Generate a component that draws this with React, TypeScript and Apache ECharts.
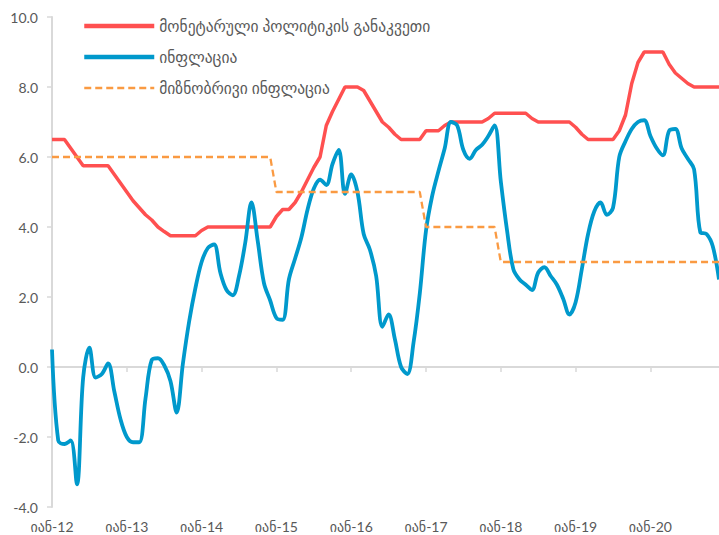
import React, { useEffect, useRef } from "react";
import * as echarts from "echarts";

// Georgian month abbreviations and years of the x axis
const monthNames = ["იან", "თებ", "მარ", "აპრ", "მაი", "ივნ", "ივლ", "აგვ", "სექ", "ოქტ", "ნოე", "დეკ"];
const years = ["12", "13", "14", "15", "16", "17", "18", "19", "20"];
const categories = years.flatMap((y) => monthNames.map((m) => `${m}-${y}`));

const seriesNames = [
  "მონეტარული პოლიტიკის განაკვეთი",
  "ინფლაცია",
  "მიზნობრივი ინფლაცია",
];

// Monetary policy rate, monthly Jan-12 .. Dec-20
const policyRate = [
  6.5, 6.5, 6.5, 6.25, 6.0, 5.75, 5.75, 5.75, 5.75, 5.75, 5.5, 5.25,
  5.0, 4.75, 4.55, 4.35, 4.2, 4.0, 3.87, 3.75, 3.75, 3.75, 3.75, 3.75,
  3.9, 4.0, 4.0, 4.0, 4.0, 4.0, 4.0, 4.0, 4.0, 4.0, 4.0, 4.0,
  4.3, 4.5, 4.5, 4.7, 5.0, 5.35, 5.7, 6.0, 6.9, 7.3, 7.65, 8.0,
  8.0, 8.0, 7.9, 7.6, 7.3, 7.0, 6.85, 6.65, 6.5, 6.5, 6.5, 6.5,
  6.75, 6.75, 6.75, 6.9, 7.0, 7.0, 7.0, 7.0, 7.0, 7.0, 7.1, 7.25,
  7.25, 7.25, 7.25, 7.25, 7.25, 7.1, 7.0, 7.0, 7.0, 7.0, 7.0, 7.0,
  6.85, 6.65, 6.5, 6.5, 6.5, 6.5, 6.5, 6.75, 7.2, 8.1, 8.7, 9.0,
  9.0, 9.0, 9.0, 8.65, 8.4, 8.25, 8.1, 8.0, 8.0, 8.0, 8.0, 8.0,
];

// Annual inflation, monthly
const inflation = [
  0.5, -2.1, -2.2, -2.1, -3.35, -0.3, 0.55, -0.3, -0.2, 0.1, -0.7, -1.5,
  -2.0, -2.15, -2.15, -0.9, 0.2, 0.25, 0.05, -0.4, -1.3, 0.1, 1.3, 2.25,
  3.0, 3.4, 3.5, 2.7, 2.2, 2.05, 2.6, 3.55, 4.7, 3.6, 2.4, 1.9,
  1.4, 1.35, 2.5, 3.1, 3.7, 4.5, 5.1, 5.35, 5.2, 5.8, 6.2, 4.95,
  5.5, 5.0, 3.8, 3.35, 2.6, 1.15, 1.5, 0.8, 0.0, -0.2, 0.7, 2.1,
  3.9, 4.9, 5.6, 6.25, 7.0, 6.9, 6.2, 5.95, 6.2, 6.35, 6.6, 6.9,
  5.3, 3.9, 2.8, 2.5, 2.35, 2.2, 2.7, 2.85, 2.6, 2.35, 1.95, 1.5,
  1.85, 2.8, 3.8, 4.45, 4.7, 4.35, 4.55, 6.0, 6.45, 6.8, 7.0, 7.05,
  6.6, 6.25, 6.05, 6.75, 6.8, 6.25, 5.95, 5.65, 3.85, 3.8, 3.45, 2.5,
];

// Inflation target, monthly
const targetInflation = [
  6, 6, 6, 6, 6, 6, 6, 6, 6, 6, 6, 6,
  6, 6, 6, 6, 6, 6, 6, 6, 6, 6, 6, 6,
  6, 6, 6, 6, 6, 6, 6, 6, 6, 6, 6, 6,
  5, 5, 5, 5, 5, 5, 5, 5, 5, 5, 5, 5,
  5, 5, 5, 5, 5, 5, 5, 5, 5, 5, 5, 5,
  4, 4, 4, 4, 4, 4, 4, 4, 4, 4, 4, 4,
  3, 3, 3, 3, 3, 3, 3, 3, 3, 3, 3, 3,
  3, 3, 3, 3, 3, 3, 3, 3, 3, 3, 3, 3,
  3, 3, 3, 3, 3, 3, 3, 3, 3, 3, 3, 3,
];

const yMin = -4;
const yMax = 10;
const yInterval = 2;

const FONT = "Lato, 'DejaVu Sans', sans-serif";
const AXIS_GREY = "#D9D9D9";
const TEXT_GREY = "#595959";
const RED = "#FF5050";
const BLUE = "#0099CC";
const ORANGE = "#FA9A42";

export default function App() {
  const ref = useRef<HTMLDivElement>(null);

  useEffect(() => {
    if (!ref.current) return;
    const chart = echarts.init(ref.current, undefined, { renderer: "svg" });
    const yearTick = (i: number) => i % 12 === 0;
    chart.setOption({
      animation: false,
      backgroundColor: "#ffffff",
      textStyle: { fontFamily: FONT },
      grid: { left: 52, right: -3, top: 17, bottom: 28, containLabel: false },
      legend: {
        orient: "vertical",
        left: 82,
        top: 18,
        padding: 0,
        itemWidth: 70,
        itemHeight: 16,
        itemGap: 15,
        itemStyle: { opacity: 0 },
        textStyle: { color: TEXT_GREY, fontSize: 15.5, fontFamily: FONT, lineHeight: 16 },
        data: [
          { name: seriesNames[0], lineStyle: { width: 4.5, color: RED } },
          { name: seriesNames[1], lineStyle: { width: 4.5, color: BLUE } },
          { name: seriesNames[2], lineStyle: { width: 2.5, color: ORANGE, type: [7, 4] } },
        ],
      },
      xAxis: [
        {
          type: "category",
          data: categories,
          boundaryGap: false,
          axisLine: { show: true, onZero: true, lineStyle: { color: AXIS_GREY, width: 2 } },
          axisTick: { show: true, interval: yearTick, length: 5, lineStyle: { color: AXIS_GREY, width: 1.5 } },
          axisLabel: { show: false },
          splitLine: { show: false },
        },
        {
          type: "category",
          data: categories,
          position: "bottom",
          boundaryGap: false,
          axisLine: { show: false, onZero: false },
          axisTick: { show: false },
          axisLabel: {
            show: true,
            interval: yearTick,
            margin: 12,
            color: TEXT_GREY,
            fontSize: 14,
            fontFamily: FONT,
          },
          splitLine: { show: false },
        },
      ],
      yAxis: {
        type: "value",
        min: yMin,
        max: yMax,
        interval: yInterval,
        axisLine: { show: true, lineStyle: { color: AXIS_GREY, width: 2 } },
        axisTick: { show: true, length: 5, lineStyle: { color: AXIS_GREY, width: 1.5 } },
        axisLabel: {
          margin: 14,
          color: TEXT_GREY,
          fontSize: 14,
          fontFamily: FONT,
          formatter: (v: number) => v.toFixed(1),
        },
        splitLine: { show: false },
      },
      series: [
        {
          name: seriesNames[0],
          type: "line",
          data: policyRate,
          symbol: "none",
          smooth: false,
          lineStyle: { color: RED, width: 3.5 },
          itemStyle: { color: RED },
        },
        {
          name: seriesNames[1],
          type: "line",
          data: inflation,
          symbol: "none",
          smooth: 0.35,
          lineStyle: { color: BLUE, width: 3.8 },
          itemStyle: { color: BLUE },
        },
        {
          name: seriesNames[2],
          type: "line",
          data: targetInflation,
          symbol: "none",
          smooth: false,
          lineStyle: { color: ORANGE, width: 2.3, type: [7, 4] },
          itemStyle: { color: ORANGE },
        },
      ],
    });
    return () => chart.dispose();
  }, []);

  return (
    <div
      ref={ref}
      style={{ position: "fixed", left: 0, top: 0, width: 719, height: 535, background: "#fff" }}
    />
  );
}
